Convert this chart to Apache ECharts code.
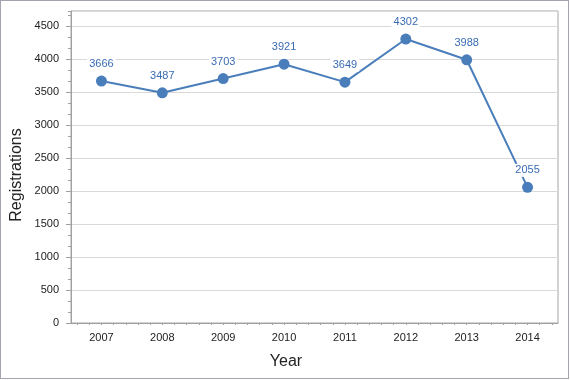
<!DOCTYPE html>
<html>
<head>
<meta charset="utf-8">
<script src="https://cdn.jsdelivr.net/npm/echarts@6/dist/echarts.min.js"></script>
<style>
html,body{margin:0;padding:0;background:#fff;}
#frame{position:absolute;left:0;top:0;width:569px;height:379px;box-sizing:border-box;border:1px solid #a3a3ad;}
#chart{position:absolute;left:0;top:0;width:570px;height:380px;}
</style>
</head>
<body>
<div id="chart"></div>
<div id="frame"></div>
<script>
const years = ['2007','2008','2009','2010','2011','2012','2013','2014'];
const registrations = [3666, 3487, 3703, 3921, 3649, 4302, 3988, 2055];
const yMax = 4727;
const yInterval = 500;
const xTitle = 'Year';
const yTitle = 'Registrations';

const FONT = 'Liberation Sans, Arial, sans-serif';
const AXIS_COLOR = '#a0a0a0';
const TEXT_COLOR = '#222';
const LINE_COLOR = '#4a7ebb';

const gridL = 71, gridR = 12, gridT = 11, gridB = 57;
const plotW = 570 - gridL - gridR;
const half = plotW / years.length / 10; // half of a minor step

const chart = echarts.init(document.getElementById('chart'), null, {renderer: 'canvas'});
chart.setOption({
  animation: false,
  backgroundColor: '#fff',
  grid: [
    {left: gridL, right: gridR, top: gridT, bottom: gridB, show: true, borderColor: '#a6a6a6', borderWidth: 1, backgroundColor: 'transparent'},
    {left: gridL + half, right: gridR + half, top: gridT, bottom: gridB, show: false}
  ],
  xAxis: [
    {
      type: 'category', gridIndex: 0, data: years, boundaryGap: true,
      axisLine: {lineStyle: {color: AXIS_COLOR, width: 1}},
      axisTick: {alignWithLabel: true, length: 4, lineStyle: {color: AXIS_COLOR}},
      axisLabel: {color: TEXT_COLOR, fontSize: 11, fontFamily: FONT, margin: 9},
      splitLine: {show: false}
    },
    {
      type: 'value', gridIndex: 1, min: 0, max: years.length * 5 - 1, interval: 1,
      axisLine: {show: false},
      axisTick: {show: true, length: 2, lineStyle: {color: AXIS_COLOR}},
      axisLabel: {show: false},
      splitLine: {show: false}
    }
  ],
  yAxis: [
    {
      type: 'value', gridIndex: 0, min: 0, max: yMax, interval: yInterval, position: 'left',
      axisLine: {show: true, lineStyle: {color: AXIS_COLOR, width: 1}},
      axisTick: {show: true, length: 5, lineStyle: {color: AXIS_COLOR}},
      axisLabel: {color: TEXT_COLOR, fontSize: 11, fontFamily: FONT, margin: 12, showMaxLabel: false,
                  formatter: function (v) { return String(v); }},
      splitLine: {show: true, lineStyle: {color: '#d9d9d9', width: 1}}
    },
    {
      type: 'value', gridIndex: 0, min: 0, max: yMax, interval: yInterval / 3, position: 'left',
      axisLine: {show: false},
      axisTick: {show: true, length: 3, lineStyle: {color: AXIS_COLOR}},
      axisLabel: {show: false},
      splitLine: {show: false}
    },
    {type: 'value', gridIndex: 1, show: false}
  ],
  graphic: [
    {type: 'text', x: 17, y: 175, rotation: Math.PI / 2,
     style: {text: yTitle, fill: TEXT_COLOR, font: '16px ' + FONT, textAlign: 'center', textVerticalAlign: 'middle'}},
    {type: 'text', x: 286, y: 362,
     style: {text: xTitle, fill: TEXT_COLOR, font: '16px ' + FONT, textAlign: 'center', textVerticalAlign: 'middle'}}
  ],
  series: [{
    type: 'line', xAxisIndex: 0, yAxisIndex: 0,
    data: registrations,
    symbol: 'circle', symbolSize: 11,
    lineStyle: {color: LINE_COLOR, width: 2},
    itemStyle: {color: LINE_COLOR},
    label: {show: true, position: 'top', distance: 5, color: '#3a6cb4', fontSize: 11, fontFamily: FONT,
            backgroundColor: '#fff', padding: [1, 2]},
    emphasis: {disabled: true},
    z: 3
  }]
});
</script>
</body>
</html>
